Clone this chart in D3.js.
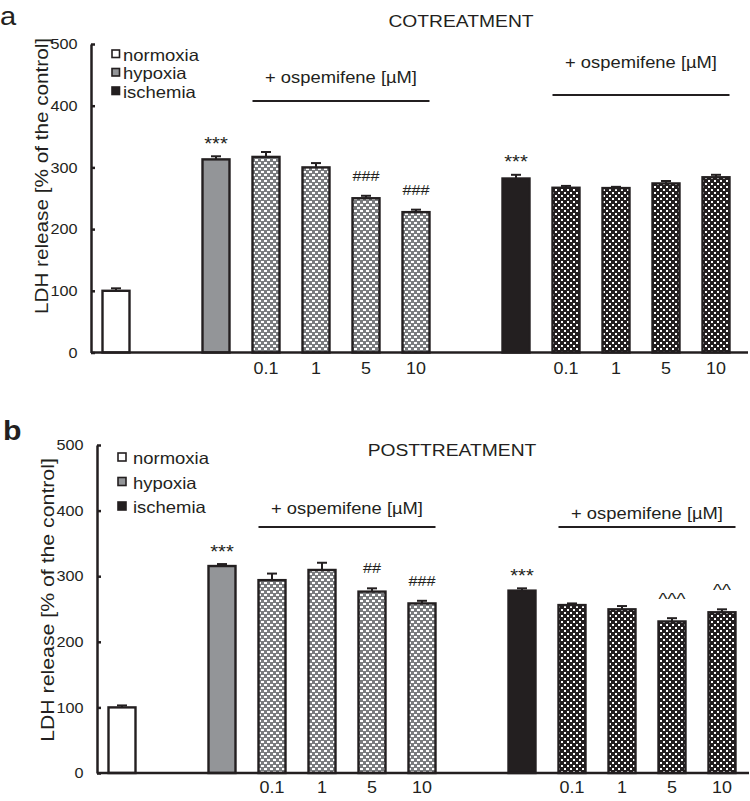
<!DOCTYPE html>
<html><head><meta charset="utf-8">
<script src="https://cdn.jsdelivr.net/npm/d3@7"></script>
<style>
body{margin:0;background:#fff}
svg{display:block}
text{font-family:"Liberation Sans", Arial, Helvetica, sans-serif; fill:#231f20}
</style>
</head><body>
<svg id="chart" width="750" height="801"></svg>
<script>
// ---------- DATA ----------
const categories = ["normoxia","gapA","hypoxia","hyp 0.1","hyp 1","hyp 5","hyp 10","gapB","ischemia","isch 0.1","isch 1","isch 5","isch 10"];
const barCategories = ["normoxia","hypoxia","hyp 0.1","hyp 1","hyp 5","hyp 10","ischemia","isch 0.1","isch 1","isch 5","isch 10"];
const condition = ["normoxia","hypoxia","hypoxia","hypoxia","hypoxia","hypoxia","ischemia","ischemia","ischemia","ischemia","ischemia"];
const doseLabels = ["","","0.1","1","5","10","","0.1","1","5","10"];
const cotreatValues = [100, 313, 317, 300, 250, 227.5, 282, 267, 266.5, 274, 284];
const cotreatErrors = [4, 5, 8, 7, 4, 4, 6, 3, 2, 4, 4];
const cotreatMarks = ["", "***", "", "", "###", "###", "***", "", "", "", ""];
const posttreatValues = [100, 315.5, 294, 309.5, 276.5, 258.5, 278, 256, 249.5, 231, 245];
const posttreatErrors = [3, 3, 10, 11, 5, 4, 3.5, 2.5, 5, 5, 4.5];
const posttreatMarks = ["", "***", "", "", "##", "###", "***", "", "", "^^^", "^^"];
const yTicks = [0, 100, 200, 300, 400, 500];
const legendLabels = ["normoxia", "hypoxia", "ischemia"];
const groupLabel = "+ ospemifene [\u00b5M]";

// ---------- STYLE ----------
const INK = "#231f20", GRAY = "#939598", SX = 1.12;
const svg = d3.select("#chart");
const defs = svg.append("defs");
function makePattern(id, bg, w, h){
  const p = defs.append("pattern").attr("id", id).attr("patternUnits","userSpaceOnUse")
    .attr("width", 6).attr("height", 6);
  p.append("rect").attr("width",6).attr("height",6).attr("fill",bg);
  p.append("rect").attr("x",0).attr("y",0).attr("width",w).attr("height",h).attr("fill","#fff");
  p.append("rect").attr("x",3).attr("y",3).attr("width",w).attr("height",h).attr("fill","#fff");
}
makePattern("pHyp", "#7a7c7f", 3, 2);
makePattern("pIsch", INK, 2, 2);

function barFill(i){
  const c = condition[i], treated = doseLabels[i] !== "";
  if (c === "normoxia") return "#fff";
  if (c === "hypoxia") return treated ? "url(#pHyp)" : GRAY;
  return treated ? "url(#pIsch)" : INK;
}
const legendFill = {normoxia:"#fff", hypoxia:GRAY, ischemia:INK};
const markStyle = {"*":{size:18, gap:6.5}, "#":{size:14.5, gap:15}, "^":{size:17, gap:13}};

function stext(parent, x, y, str, size, anchor, weight){
  return parent.append("text")
    .attr("transform", `translate(${x},${y}) scale(${SX},1)`)
    .attr("font-size", size).attr("text-anchor", anchor || "start")
    .attr("font-weight", weight || "normal").text(str);
}

// ---------- PANELS ----------
const panels = [
  {letter:"a", bold:false, letterX:0, letterY:25, letterSize:26,
   title:"COTREATMENT", titleX:461, titleY:27,
   values:cotreatValues, errors:cotreatErrors, marks:cotreatMarks,
   xRange:[91,741], axisX:91, axisEnd:748, y0:352.5, y500:44,
   xLabelY:374, yLabelX:48, yLabelY:176, yLabelSize:18.5,
   legX:112, legY:50, legStep:18.5, legSq:7.5, legTextX:123,
   groups:[{from:"hyp 0.1", to:"hyp 10", textY:83, lineY:101},
           {from:"isch 0.1", to:"isch 10", textY:68, lineY:95}]},
  {letter:"b", bold:true, letterX:3, letterY:440, letterSize:27,
   title:"POSTTREATMENT", titleX:452, titleY:456,
   values:posttreatValues, errors:posttreatErrors, marks:posttreatMarks,
   xRange:[97,747], axisX:97, axisEnd:749, y0:773, y500:445,
   xLabelY:793, yLabelX:54, yLabelY:600, yLabelSize:19,
   legX:118, legY:453, legStep:24.5, legSq:8, legTextX:133,
   groups:[{from:"hyp 0.1", to:"hyp 10", textY:514, lineY:527},
           {from:"isch 0.1", to:"isch 10", textY:519, lineY:527}]}
];

panels.forEach(P => {
  const g = svg.append("g");
  const x = d3.scaleBand().domain(categories).range(P.xRange).paddingInner(0.46).paddingOuter(0.23);
  const y = d3.scaleLinear().domain([0,500]).range([P.y0, P.y500]);
  const bw = x.bandwidth();

  // bars
  g.selectAll("rect.bar").data(barCategories).join("rect").attr("class","bar")
    .attr("x", d => x(d)).attr("width", bw)
    .attr("y", (d,i) => y(P.values[i])).attr("height", (d,i) => y(0) - y(P.values[i]))
    .attr("fill", (d,i) => barFill(i))
    .attr("stroke", INK).attr("stroke-width", 2.4);

  // error bars
  const eg = g.selectAll("g.err").data(barCategories).join("g").attr("class","err");
  eg.append("line")
    .attr("x1", d => x(d) + bw/2).attr("x2", d => x(d) + bw/2)
    .attr("y1", (d,i) => y(P.values[i])).attr("y2", (d,i) => y(P.values[i] + P.errors[i]))
    .attr("stroke", INK).attr("stroke-width", 2);
  eg.append("line")
    .attr("x1", d => x(d) + bw/2 - 5).attr("x2", d => x(d) + bw/2 + 5)
    .attr("y1", (d,i) => y(P.values[i] + P.errors[i])).attr("y2", (d,i) => y(P.values[i] + P.errors[i]))
    .attr("stroke", INK).attr("stroke-width", 2);

  // significance marks
  barCategories.forEach((d,i) => {
    const m = P.marks[i]; if (!m) return;
    const st = markStyle[m[0]];
    const top = y(P.values[i] + P.errors[i]);
    stext(g, x(d) + bw/2, top - st.gap, m, st.size, "middle");
  });

  // y axis
  const ya = d3.axisLeft(y).tickValues(yTicks).tickSize(-4).tickSizeOuter(0).tickPadding(12);
  const yg = g.append("g").attr("transform", `translate(${P.axisX},0)`).call(ya);
  yg.select(".domain").attr("stroke", INK).attr("stroke-width", 2.5);
  yg.selectAll(".tick line").attr("stroke", INK).attr("stroke-width", 2.5);
  yg.selectAll(".tick text").attr("font-size", 14.5).attr("fill", INK)
    .attr("font-family", "Liberation Sans, Arial, sans-serif")
    .attr("transform", `scale(${SX},1)`);

  // x baseline + dose labels
  g.append("line").attr("x1", P.axisX).attr("x2", P.axisEnd).attr("y1", y(0)).attr("y2", y(0))
    .attr("stroke", INK).attr("stroke-width", 2.5);
  const xa = d3.axisBottom(x).tickValues(barCategories.filter((d,i) => doseLabels[i] !== ""))
    .tickFormat(d => doseLabels[barCategories.indexOf(d)]).tickSize(0);
  const xg = g.append("g").attr("transform", `translate(0,${P.xLabelY})`).call(xa);
  xg.select(".domain").remove();
  xg.selectAll(".tick text").attr("y", 0).attr("dy", 0).attr("font-size", 16).attr("fill", INK)
    .attr("font-family", "Liberation Sans, Arial, sans-serif")
    .attr("transform", `scale(${SX},1)`);

  // y axis title
  g.append("text")
    .attr("transform", `translate(${P.yLabelX},${P.yLabelY}) rotate(-90) scale(${SX},1)`)
    .attr("text-anchor", "middle").attr("font-size", P.yLabelSize)
    .text("LDH release [% of the control]");

  // panel letter & title
  stext(g, P.letterX, P.letterY, P.letter, P.letterSize, "start", P.bold ? "bold" : "normal");
  stext(g, P.titleX, P.titleY, P.title, 17.2, "middle");

  // group labels
  P.groups.forEach(G => {
    const x1 = x(G.from), x2 = x(G.to) + bw;
    g.append("line").attr("x1", x1).attr("x2", x2).attr("y1", G.lineY).attr("y2", G.lineY)
      .attr("stroke", INK).attr("stroke-width", 2.2);
    stext(g, (x1 + x2)/2, G.textY, groupLabel, 16.4, "middle");
  });

  // legend
  legendLabels.forEach((l,k) => {
    const yy = P.legY + k * P.legStep;
    g.append("rect").attr("x", P.legX).attr("y", yy).attr("width", P.legSq).attr("height", P.legSq)
      .attr("fill", legendFill[l]).attr("stroke", INK).attr("stroke-width", 1.6);
    stext(g, P.legTextX, yy + P.legSq + 3, l, 16.5, "start");
  });
});
</script>
</body></html>
